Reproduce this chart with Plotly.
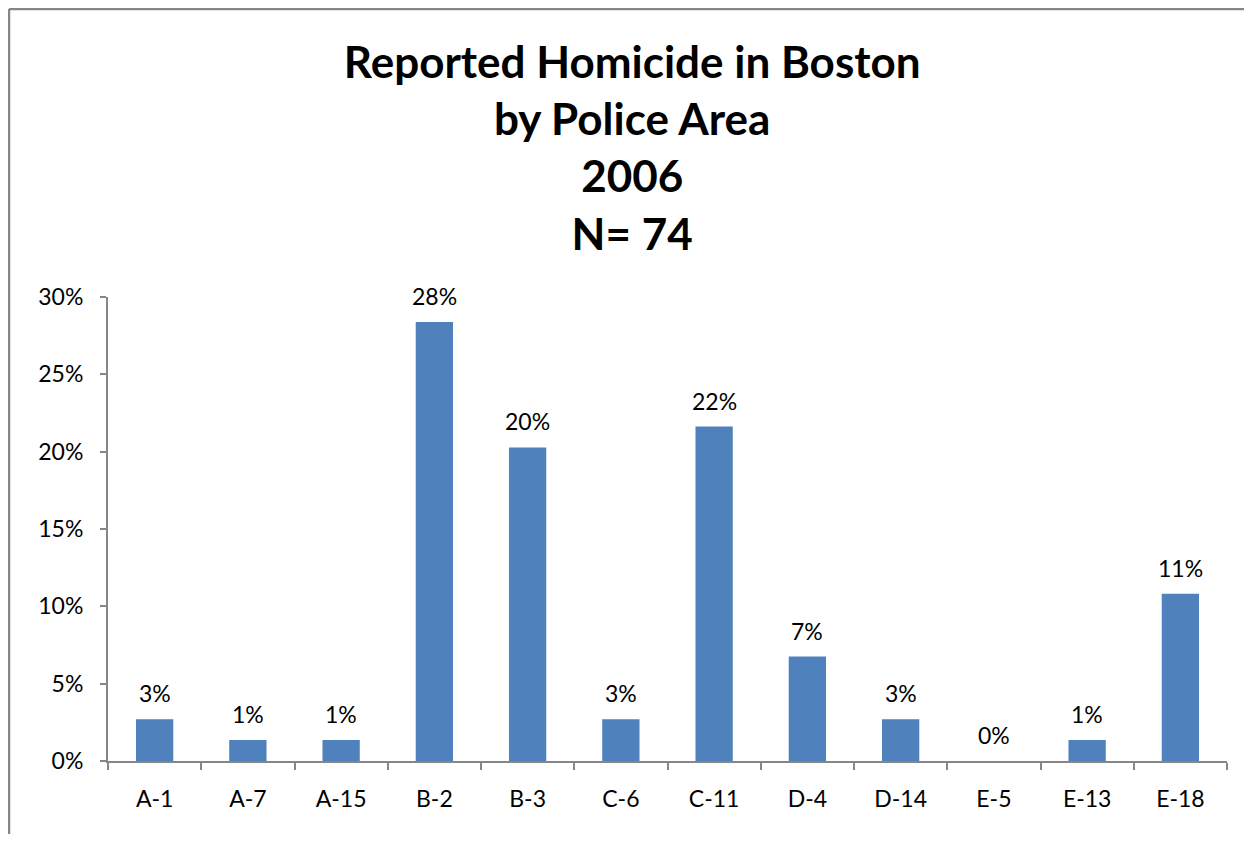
import plotly.graph_objects as go

# data
areas = ['A-1', 'A-7', 'A-15', 'B-2', 'B-3', 'C-6', 'C-11', 'D-4', 'D-14', 'E-5', 'E-13', 'E-18']
counts = [2, 1, 1, 21, 15, 2, 16, 5, 2, 0, 1, 8]
n_total = 74
shares = [c / n_total for c in counts]
labels = [f'{round(s * 100):.0f}%' for s in shares]
y_ticks = [0, 0.05, 0.10, 0.15, 0.20, 0.25, 0.30]
y_ticktext = ['0%', '5%', '10%', '15%', '20%', '25%', '30%']

# style
bar_color = '#4F81BD'
axis_color = '#868686'
font_family = 'Lato, Open Sans, sans-serif'
size_tick = 23
size_title = 44
size_plot = [1236, 826]  # fits the window together with the 8px body margin
margin = dict(l=100, r=17, t=289, b=73)

fig = go.Figure()
fig.add_trace(go.Bar(
    x=areas, y=shares,
    marker=dict(color=bar_color, line=dict(width=0)),
    width=0.4,
))

# value labels above the bars
for a, s, lab in zip(areas, shares, labels):
    fig.add_annotation(x=a, y=s, text=lab, showarrow=False,
                       yanchor='middle', yshift=26,
                       font=dict(size=size_tick, color='#000000'))

fig.update_layout(
    width=size_plot[0], height=size_plot[1],
    paper_bgcolor='white', plot_bgcolor='white',
    margin=margin,
    font=dict(family=font_family, color='#000000'),
    title=dict(
        text='<b>Reported Homicide in Boston<br>by Police Area<br>2006<br>N= 74</b>',
        x=0.505, xanchor='center', xref='container',
        y=1 - 70 / size_plot[1], yanchor='middle', yref='container',
        font=dict(size=size_title, family=font_family),
    ),
    showlegend=False,
)

fig.update_yaxes(
    range=[0, 0.30], tickvals=y_ticks, ticktext=y_ticktext,
    showgrid=False, zeroline=False,
    showline=True, linecolor=axis_color, linewidth=2,
    ticks='outside', ticklen=6, tickcolor=axis_color, tickwidth=2,
    tickfont=dict(size=size_tick), ticklabelstandoff=12,
    automargin=False,
)
fig.update_xaxes(
    showgrid=False, showline=True, linecolor=axis_color, linewidth=2,
    ticks='outside', ticklen=7, tickcolor=axis_color, tickwidth=2,
    tickson='boundaries', tickfont=dict(size=size_tick),
    ticklabelstandoff=16, automargin=False,
)

# outer chart border: only left and top edges are visible in the crop
plot_w = size_plot[0] - margin['l'] - margin['r']
plot_h = size_plot[1] - margin['t'] - margin['b']
x_left = (1 - margin['l']) / plot_w
y_top = 1 + (margin['t'] - 1) / plot_h
fig.add_shape(type='line', xref='paper', yref='paper',
              x0=x_left, x1=x_left, y0=-0.4, y1=y_top,
              line=dict(color=axis_color, width=2.5), layer='below')
fig.add_shape(type='line', xref='paper', yref='paper',
              x0=x_left, x1=1.2, y0=y_top, y1=y_top,
              line=dict(color=axis_color, width=2.5), layer='below')

fig.write_html('out.html')
